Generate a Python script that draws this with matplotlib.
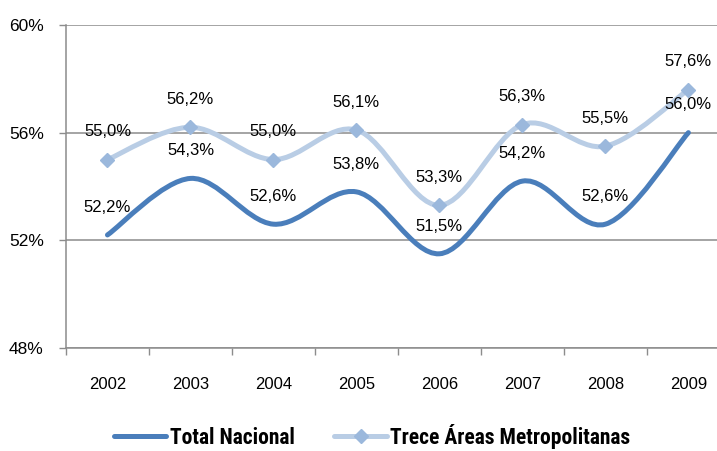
import matplotlib
matplotlib.use("Agg")
import matplotlib.pyplot as plt
from matplotlib.path import Path
from matplotlib.patches import PathPatch
from matplotlib.lines import Line2D
from matplotlib.ticker import FixedLocator
from matplotlib import font_manager

YEARS = ["2002", "2003", "2004", "2005", "2006", "2007", "2008", "2009"]
TOTAL_NACIONAL = [52.2, 54.3, 52.6, 53.8, 51.5, 54.2, 52.6, 56.0]
TRECE_AREAS = [55.0, 56.2, 55.0, 56.1, 53.3, 56.3, 55.5, 57.6]
Y_TICKS = [48, 52, 56, 60]

DARK = "#4A7EBB"
LIGHT = "#B9CDE5"
LIGHT_MARK = "#9BB8DC"
GRID = "#8C8C8C"

plt.rcParams["font.family"] = ["Liberation Sans", "DejaVu Sans"]

# narrow bold face for the legend if one is installed
installed = {f.name for f in font_manager.fontManager.ttflist}
narrow = [n for n in ["Liberation Sans Narrow", "Arial Narrow", "Roboto Condensed",
                      "DejaVu Sans Condensed", "Open Sans Condensed"] if n in installed]
if narrow:
    LEG_FONT = {"family": [narrow[0]], "weight": "bold", "size": 15.5}
else:
    LEG_FONT = {"family": ["Liberation Sans"], "weight": "bold", "size": 13}


def smooth_path(xs, ys):
    # Excel-style smoothed line: cubic bezier through every point
    pts = list(zip(xs, ys))
    n = len(pts)
    verts = [pts[0]]
    codes = [Path.MOVETO]
    for i in range(n - 1):
        p0 = pts[i - 1] if i > 0 else pts[i]
        p1 = pts[i]
        p2 = pts[i + 1]
        p3 = pts[i + 2] if i + 2 < n else pts[i + 1]
        c1 = (p1[0] + (p2[0] - p0[0]) / 6, p1[1] + (p2[1] - p0[1]) / 6)
        c2 = (p2[0] - (p3[0] - p1[0]) / 6, p2[1] - (p3[1] - p1[1]) / 6)
        verts += [c1, c2, p2]
        codes += [Path.CURVE4] * 3
    return Path(verts, codes)


fig = plt.figure(figsize=(7.17, 4.51), dpi=100)
ax = fig.add_axes([0.092, 0.2284, 0.926, 0.7162])

x = list(range(len(YEARS)))
ax.add_patch(PathPatch(smooth_path(x, TOTAL_NACIONAL), facecolor="none",
                       edgecolor=DARK, lw=3.6, capstyle="round", zorder=3))
ax.add_patch(PathPatch(smooth_path(x, TRECE_AREAS), facecolor="none",
                       edgecolor=LIGHT, lw=3.6, capstyle="round", zorder=3))
ax.plot(x, TRECE_AREAS, "D", color=LIGHT_MARK, ms=7.5, zorder=4)

for xi, v in zip(x, TOTAL_NACIONAL):
    ax.annotate(f"{v:.1f}%".replace(".", ","), (xi, v), xytext=(0, 20),
                textcoords="offset points", ha="center", va="center", fontsize=12)
for xi, v in zip(x, TRECE_AREAS):
    ax.annotate(f"{v:.1f}%".replace(".", ","), (xi, v), xytext=(0, 20),
                textcoords="offset points", ha="center", va="center", fontsize=12)

ax.set_xlim(-0.5, len(YEARS) - 0.5)
ax.set_ylim(48, 60)
ax.set_yticks(Y_TICKS)
ax.set_yticklabels([f"{t}%" for t in Y_TICKS], fontsize=12.5)
ax.set_xticks(x)
ax.set_xticklabels(YEARS, fontsize=12)
ax.xaxis.set_minor_locator(FixedLocator([i - 0.5 for i in range(len(YEARS) + 1)]))
ax.tick_params(axis="x", which="major", length=0, pad=21)
ax.tick_params(axis="x", which="minor", length=5, width=1, color=GRID, direction="out")
ax.tick_params(axis="y", length=5, width=1, color=GRID, direction="out", pad=11)

ax.grid(axis="y", color=GRID, lw=1.1)
ax.set_axisbelow(True)
for s in ["top", "right"]:
    ax.spines[s].set_visible(False)
for s in ["left", "bottom"]:
    ax.spines[s].set_color(GRID)
    ax.spines[s].set_linewidth(1.1)

handles = [
    Line2D([], [], color=DARK, lw=3.6, solid_capstyle="round"),
    Line2D([], [], color=LIGHT, lw=3.6, marker="D", ms=7.5, mfc=LIGHT_MARK,
           mec=LIGHT_MARK, solid_capstyle="round"),
]
fig.legend(handles, ["Total Nacional", "Trece Áreas Metropolitanas"],
           loc="center", bbox_to_anchor=(0.519, 0.033), ncol=2, frameon=False,
           prop=LEG_FONT, handlelength=2.45, handletextpad=0.15, columnspacing=1.85,
           borderpad=0.2)

fig.savefig("out.png", dpi=100)
